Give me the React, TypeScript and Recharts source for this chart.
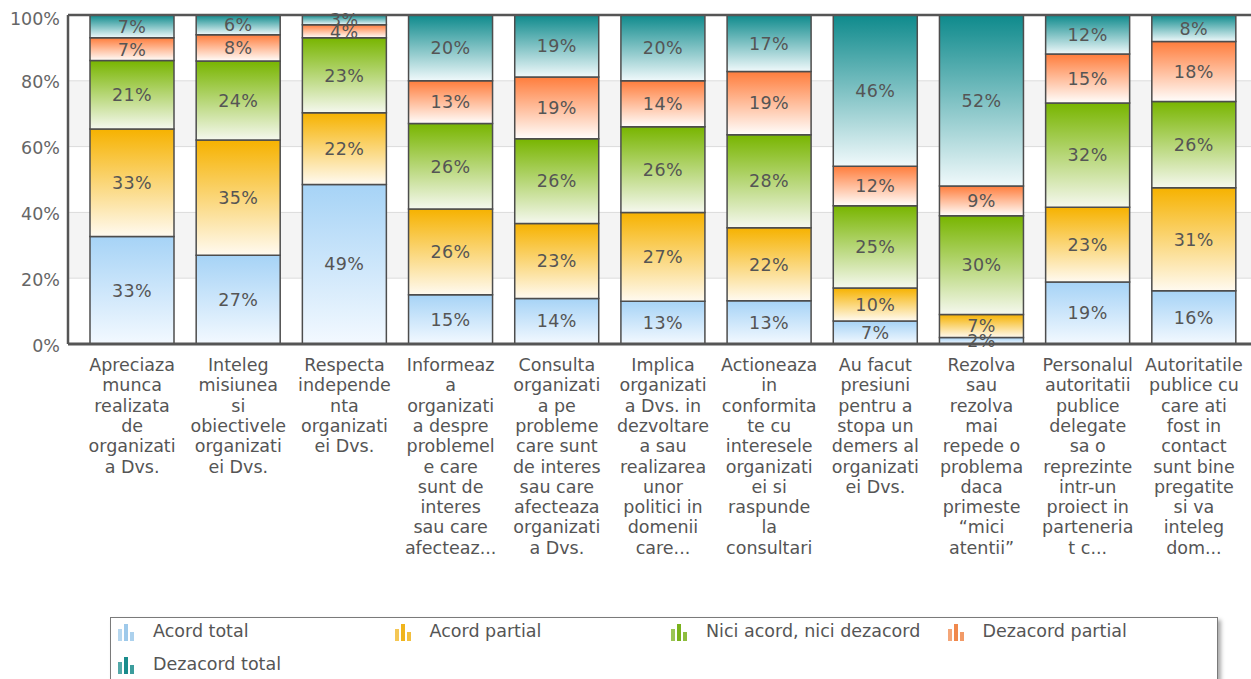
import React from 'react';
import { BarChart, Bar, XAxis, YAxis, CartesianGrid, LabelList, ReferenceLine } from 'recharts';

const categories = [
  'Apreciaza\nmunca\nrealizata\nde\norganizati\na Dvs.',
  'Inteleg\nmisiunea\nsi\nobiectivele\norganizati\nei Dvs.',
  'Respecta\nindepende\nnta\norganizati\nei Dvs.',
  'Informeaz\na\norganizati\na despre\nproblemel\ne care\nsunt de\ninteres\nsau care\nafecteaz...',
  'Consulta\norganizati\na pe\nprobleme\ncare sunt\nde interes\nsau care\nafecteaza\norganizati\na Dvs.',
  'Implica\norganizati\na Dvs. in\ndezvoltare\na sau\nrealizarea\nunor\npolitici in\ndomenii\ncare...',
  'Actioneaza\nin\nconformita\nte cu\ninteresele\norganizati\nei si\nraspunde\nla\nconsultari',
  'Au facut\npresiuni\npentru a\nstopa un\ndemers al\norganizati\nei Dvs.',
  'Rezolva\nsau\nrezolva\nmai\nrepede o\nproblema\ndaca\nprimeste\n\u201cmici\natentii\u201d',
  'Personalul\nautoritatii\npublice\ndelegate\nsa o\nreprezinte\nintr-un\nproiect in\nparteneria\nt c...',
  'Autoritatile\npublice cu\ncare ati\nfost in\ncontact\nsunt bine\npregatite\nsi va\ninteleg\ndom...',
];

const acordTotal = [33, 27, 49, 15, 14, 13, 13, 7, 2, 19, 16];
const acordPartial = [33, 35, 22, 26, 23, 27, 22, 10, 7, 23, 31];
const niciAcord = [21, 24, 23, 26, 26, 26, 28, 25, 30, 32, 26];
const dezacordPartial = [7, 8, 4, 13, 19, 14, 19, 12, 9, 15, 18];
const dezacordTotal = [7, 6, 3, 20, 19, 20, 17, 46, 52, 12, 8];

const yTicks = [0, 0.2, 0.4, 0.6, 0.8, 1];

const seriesNames = ['Acord total', 'Acord partial', 'Nici acord, nici dezacord', 'Dezacord partial', 'Dezacord total'];
const seriesKeys = ['at', 'ap', 'nn', 'dp', 'dt'];
const seriesValues = [acordTotal, acordPartial, niciAcord, dezacordPartial, dezacordTotal];
const topColors = ['#a6d3f6', '#f6b200', '#78b500', '#ff7d3c', '#0e8a8c'];
const bottomColors = ['#f3f9ff', '#fffaf0', '#f5f8ee', '#fffdfb', '#f0f9fb'];
const iconColors = ['#9ec9ea', '#f0b41c', '#7ab21c', '#f0884c', '#1a8c8c'];

const data = categories.map((name, i) => {
  const row: Record<string, any> = { name };
  seriesKeys.forEach((k, s) => {
    row[k] = seriesValues[s][i];
  });
  return row;
});

const FONT = '"DejaVu Sans", Verdana, sans-serif';

const CategoryTick = (props: any) => {
  const { x, y, payload } = props;
  const lines = String(payload.value).split('\n');
  return (
    <text x={x} y={y} textAnchor="middle" fill="#555" fontSize={17.5} fontFamily={FONT}>
      {lines.map((l, i) => (
        <tspan key={i} x={x} dy={i === 0 ? 27 : 20.3}>
          {l}
        </tspan>
      ))}
    </text>
  );
};

const ValueTick = (props: any) => {
  const { x, y, payload } = props;
  const v = payload.value;
  const extra = v === 1 ? 4 : 1.5;
  return (
    <text x={x} y={y + extra} dy={6} textAnchor="end" fill="#666" fontSize={17.5} fontFamily={FONT}>
      {`${Math.round(v * 100)}%`}
    </text>
  );
};

const renderValueLabel = (props: any) => {
  const { x, y, width, height, value } = props;
  return (
    <text
      x={Number(x) + Number(width) / 2}
      y={Number(y) + Number(height) / 2}
      dy={6.3}
      textAnchor="middle"
      fill="#555"
      fontSize={17.5}
      fontFamily={FONT}
      letterSpacing={0.4}
    >
      {`${value}%`}
    </text>
  );
};

const LegendIcon = ({ color }: { color: string }) => (
  <svg width={18} height={18} style={{ position: 'absolute', left: 0, top: 8 }}>
    <rect x={1} y={6} width={4} height={12} fill={color} opacity={0.75} />
    <rect x={7} y={1} width={4} height={17} fill={color} />
    <rect x={13} y={9} width={4} height={9} fill={color} opacity={0.85} />
  </svg>
);

export default function App() {
  return (
    <div style={{ position: 'absolute', left: 0, top: 0, width: 1251, height: 679, overflow: 'hidden', background: '#fff' }}>
      <BarChart
        width={1251}
        height={679}
        data={data}
        stackOffset="expand"
        margin={{ top: 15, right: 0, bottom: 0, left: 0 }}
      >
        <defs>
          {seriesKeys.map((k, i) => (
            <linearGradient key={k} id={`grad-${k}`} x1="0" y1="0" x2="0" y2="1">
              <stop offset="0%" stopColor={topColors[i]} />
              <stop offset="100%" stopColor={bottomColors[i]} />
            </linearGradient>
          ))}
        </defs>
        <CartesianGrid vertical={false} stroke="#dcdcdc" horizontalFill={['#ffffff', '#f4f4f4']} />
        <XAxis
          dataKey="name"
          interval={0}
          height={335}
          tickLine={false}
          tickSize={0}
          tickMargin={0}
          padding={{ left: 11, right: 4 }}
          axisLine={{ stroke: '#555', strokeWidth: 3 }}
          tick={<CategoryTick />}
        />
        <YAxis
          width={68}
          domain={[0, 1]}
          ticks={yTicks}
          tickLine={false}
          tickSize={0}
          tickMargin={8}
          axisLine={{ stroke: '#555', strokeWidth: 2.5 }}
          tick={<ValueTick />}
        />
        {seriesKeys.map((k, i) => (
          <Bar
            key={k}
            dataKey={k}
            name={seriesNames[i]}
            stackId="a"
            barSize={84}
            fill={`url(#grad-${k})`}
            stroke="#4d4d4d"
            strokeWidth={1.5}
            isAnimationActive={false}
          >
            <LabelList dataKey={k} content={renderValueLabel} />
          </Bar>
        ))}
        <ReferenceLine y={1} stroke="#555" strokeWidth={2.5} />
      </BarChart>
      <div
        style={{
          position: 'absolute',
          left: 110,
          top: 617,
          width: 1106,
          height: 80,
          border: '1px solid #7a7a7a',
          boxShadow: '3px 3px 4px #aaa',
          background: '#fff',
          fontFamily: FONT,
          fontSize: 17.5,
          color: '#555',
        }}
      >
        {seriesNames.map((n, i) => {
          const col = i % 4;
          const row = Math.floor(i / 4);
          return (
            <div
              key={n}
              style={{
                position: 'absolute',
                left: 6 + col * 276.5,
                top: row === 0 ? -3 : 30,
                height: 32,
                lineHeight: '32px',
                whiteSpace: 'nowrap',
                paddingLeft: 36,
              }}
            >
              <LegendIcon color={iconColors[i]} />
              {n}
            </div>
          );
        })}
      </div>
    </div>
  );
}
